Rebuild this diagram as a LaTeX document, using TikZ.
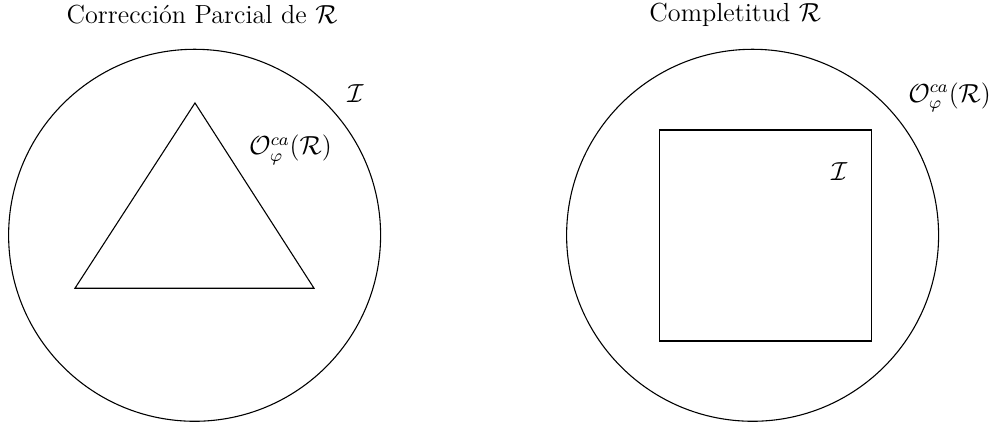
\documentclass[tikz,border=0pt,12pt]{standalone}
\usepackage{amsmath,amssymb}
\usepackage{tikz}
\usetikzlibrary{calc}
\def\Rad{3}
\def\Gap{9}
\tikzset{
    region/.style={draw=black, line width=0.5pt},
    set label/.style={inner sep=1pt},
    title label/.style={inner sep=1pt}
}
\begin{document}
\begin{tikzpicture}
    \useasboundingbox (-3.139,-3.060) rectangle (12.942,3.795);
    \coordinate (C1) at (0,0);
    \coordinate (C2) at (\Gap,0);

    % Correccion parcial
    \draw[region] (C1) circle (\Rad);
    \draw[region] (-1.93,-0.855) -- (1.926,-0.855) -- (0.006,2.134) -- cycle;
    \node[title label] (T1) at (0.12,3.553) {Corrección Parcial de $\mathcal{R}$};
    \node[set label] (I1) at (2.595,2.279) {$\mathcal{I}$};
    \node[set label] (O1) at (1.547,1.376) {$\mathcal{O}^{ca}_{\varphi}(\mathcal{R})$};

    % Completitud
    \draw[region] (C2) circle (\Rad);
    \draw[region] ($(C2)+(-1.503,-1.705)$) rectangle ($(C2)+(1.923,1.698)$);
    \node[title label] (T2) at (8.72,3.553) {Completitud $\mathcal{R}$};
    \node[set label] (I2) at (10.395,1.029) {$\mathcal{I}$};
    \node[set label] (O2) at (12.177,2.223) {$\mathcal{O}^{ca}_{\varphi}(\mathcal{R})$};
\end{tikzpicture}
\end{document}
